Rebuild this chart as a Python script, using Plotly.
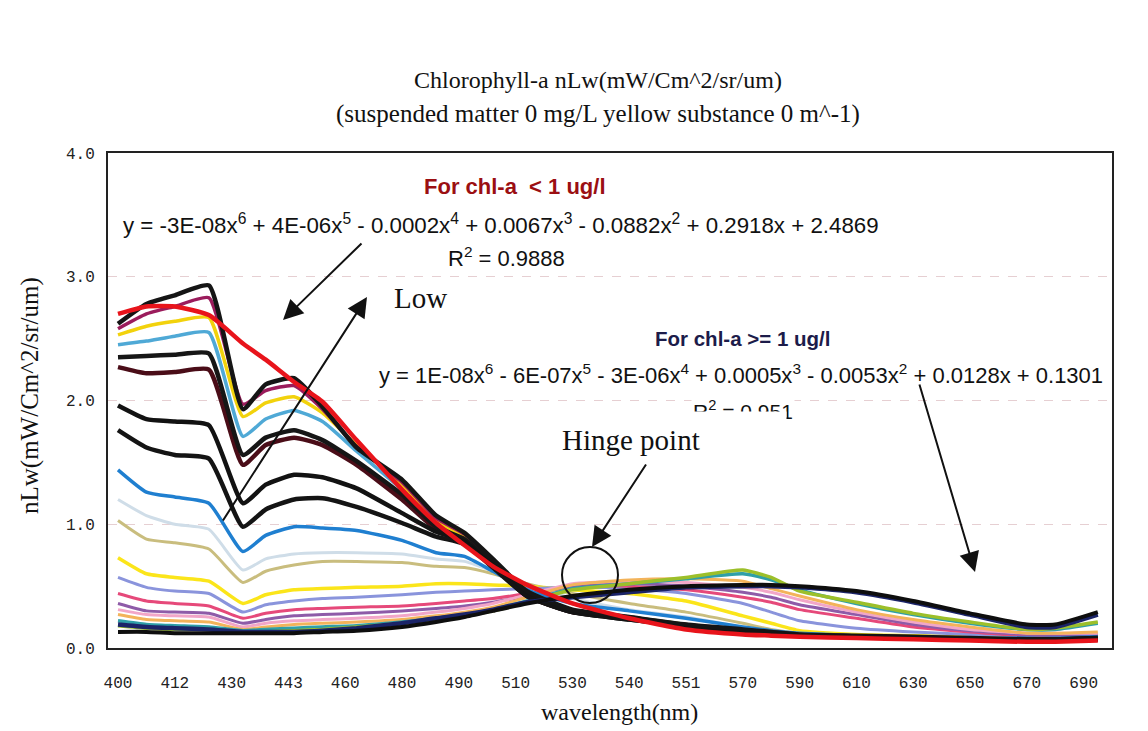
import plotly.graph_objects as go

# ---------------- data ----------------
wl_labels = ["400", "412", "430", "443", "460", "480", "490", "510", "530",
             "540", "551", "570", "590", "610", "630", "650", "670", "690"]
# sample positions along the category axis (in label units)
x_pos = [0, 0.5, 1, 1.6, 2.2, 2.6, 3.1, 3.6, 4.2, 5, 5.6, 6.1, 6.6, 7.2, 8,
         9, 10, 11, 11.5, 12, 13, 14, 15, 16, 16.5, 17.25]

black_a = [2.62, 2.78, 2.85, 2.93, 1.93, 2.13, 2.18, 1.95, 1.62, 1.36, 1.07, 0.93, 0.72,
           0.46, 0.31, 0.25, 0.19, 0.15, 0.13, 0.11, 0.10, 0.09, 0.08, 0.07, 0.07, 0.08]
magenta = [2.58, 2.70, 2.76, 2.83, 1.97, 2.08, 2.12, 1.93, 1.63, 1.34, 1.05, 0.92, 0.71,
           0.45, 0.31, 0.25, 0.19, 0.15, 0.13, 0.11, 0.10, 0.09, 0.08, 0.07, 0.07, 0.08]
yellow_hi = [2.53, 2.60, 2.64, 2.67, 1.87, 1.98, 2.03, 1.90, 1.64, 1.32, 1.03, 0.90, 0.70,
             0.44, 0.30, 0.25, 0.19, 0.14, 0.12, 0.11, 0.10, 0.09, 0.08, 0.07, 0.07, 0.08]
cyan_hi = [2.45, 2.48, 2.52, 2.55, 1.71, 1.85, 1.92, 1.83, 1.59, 1.28, 1.00, 0.88, 0.68,
           0.43, 0.30, 0.25, 0.19, 0.14, 0.12, 0.10, 0.09, 0.08, 0.07, 0.07, 0.07, 0.08]
black_b = [2.35, 2.36, 2.37, 2.38, 1.56, 1.70, 1.76, 1.68, 1.51, 1.24, 0.98, 0.88, 0.68,
           0.43, 0.30, 0.24, 0.18, 0.14, 0.12, 0.10, 0.09, 0.08, 0.07, 0.07, 0.07, 0.08]
brown = [2.27, 2.22, 2.23, 2.25, 1.48, 1.64, 1.70, 1.64, 1.48, 1.20, 0.96, 0.87, 0.67,
         0.42, 0.29, 0.24, 0.18, 0.13, 0.11, 0.10, 0.09, 0.08, 0.07, 0.06, 0.06, 0.07]
black_c = [1.96, 1.85, 1.83, 1.80, 1.17, 1.32, 1.40, 1.38, 1.29, 1.09, 0.94, 0.86, 0.66,
           0.42, 0.29, 0.23, 0.18, 0.13, 0.11, 0.10, 0.09, 0.08, 0.07, 0.06, 0.06, 0.07]
black_d = [1.76, 1.62, 1.56, 1.53, 0.98, 1.12, 1.20, 1.21, 1.14, 1.01, 0.90, 0.84, 0.65,
           0.42, 0.29, 0.23, 0.18, 0.13, 0.11, 0.10, 0.09, 0.08, 0.07, 0.06, 0.06, 0.07]
blue = [1.44, 1.26, 1.22, 1.17, 0.78, 0.91, 0.98, 0.97, 0.95, 0.87, 0.77, 0.74, 0.62,
        0.47, 0.36, 0.30, 0.24, 0.17, 0.14, 0.12, 0.10, 0.09, 0.08, 0.08, 0.08, 0.09]
light_gray = [1.20, 1.07, 1.00, 0.96, 0.63, 0.72, 0.76, 0.77, 0.77, 0.76, 0.72, 0.70, 0.62,
              0.52, 0.40, 0.31, 0.25, 0.17, 0.14, 0.12, 0.10, 0.09, 0.09, 0.08, 0.08, 0.09]
khaki = [1.03, 0.88, 0.85, 0.80, 0.53, 0.62, 0.67, 0.70, 0.70, 0.69, 0.66, 0.65, 0.60,
         0.52, 0.44, 0.36, 0.29, 0.20, 0.15, 0.12, 0.10, 0.09, 0.09, 0.08, 0.08, 0.09]
yellow_lo = [0.73, 0.60, 0.57, 0.54, 0.36, 0.43, 0.47, 0.48, 0.49, 0.50, 0.52, 0.52, 0.51,
             0.50, 0.47, 0.44, 0.38, 0.26, 0.20, 0.14, 0.11, 0.10, 0.09, 0.08, 0.08, 0.09]
periwinkle = [0.57, 0.49, 0.46, 0.44, 0.29, 0.35, 0.38, 0.40, 0.41, 0.43, 0.45, 0.46, 0.47,
              0.48, 0.49, 0.48, 0.44, 0.36, 0.29, 0.22, 0.16, 0.13, 0.11, 0.10, 0.10, 0.10]
crimson = [0.44, 0.38, 0.36, 0.34, 0.24, 0.28, 0.31, 0.32, 0.33, 0.34, 0.36, 0.38, 0.40,
           0.44, 0.50, 0.50, 0.47, 0.41, 0.37, 0.31, 0.24, 0.17, 0.13, 0.10, 0.10, 0.10]
purple = [0.36, 0.30, 0.29, 0.28, 0.20, 0.23, 0.26, 0.27, 0.28, 0.30, 0.32, 0.34, 0.37,
          0.42, 0.50, 0.52, 0.50, 0.45, 0.41, 0.35, 0.27, 0.19, 0.14, 0.11, 0.11, 0.11]
light_pink = [0.31, 0.27, 0.26, 0.25, 0.17, 0.20, 0.22, 0.23, 0.24, 0.26, 0.29, 0.32, 0.36,
              0.43, 0.52, 0.54, 0.53, 0.49, 0.45, 0.39, 0.29, 0.21, 0.15, 0.12, 0.12, 0.12]
orange = [0.27, 0.23, 0.22, 0.21, 0.15, 0.17, 0.19, 0.20, 0.21, 0.23, 0.26, 0.29, 0.33,
          0.41, 0.51, 0.55, 0.56, 0.54, 0.48, 0.42, 0.31, 0.23, 0.17, 0.12, 0.12, 0.13]
teal = [0.22, 0.19, 0.18, 0.17, 0.14, 0.15, 0.16, 0.17, 0.18, 0.21, 0.24, 0.27, 0.31,
        0.38, 0.48, 0.52, 0.56, 0.60, 0.55, 0.47, 0.36, 0.27, 0.20, 0.15, 0.15, 0.20]
green_yellow = [0.18, 0.16, 0.15, 0.15, 0.12, 0.13, 0.14, 0.15, 0.17, 0.20, 0.23, 0.26, 0.30,
                0.37, 0.47, 0.52, 0.57, 0.63, 0.57, 0.46, 0.37, 0.28, 0.21, 0.15, 0.16, 0.21]
navy = [0.19, 0.17, 0.16, 0.15, 0.13, 0.13, 0.13, 0.14, 0.16, 0.20, 0.24, 0.27, 0.31,
        0.37, 0.41, 0.45, 0.49, 0.50, 0.50, 0.49, 0.45, 0.37, 0.27, 0.17, 0.17, 0.27]
black_e = [0.13, 0.13, 0.12, 0.12, 0.12, 0.12, 0.12, 0.13, 0.14, 0.17, 0.21, 0.25, 0.30,
           0.36, 0.42, 0.47, 0.50, 0.51, 0.51, 0.50, 0.46, 0.38, 0.28, 0.19, 0.19, 0.29]
red_fit = [2.70, 2.76, 2.76, 2.69, 2.46, 2.33, 2.15, 1.99, 1.68, 1.28, 1.01, 0.83, 0.66,
           0.51, 0.36, 0.24, 0.15, 0.11, 0.10, 0.09, 0.08, 0.07, 0.06, 0.05, 0.05, 0.06]

series = [
    (light_gray, "#cfdde8", 3.0), (khaki, "#c9bd7e", 3.0), (yellow_lo, "#fbe51a", 3.5),
    (periwinkle, "#8a94dc", 3.0), (crimson, "#e6497a", 3.0), (purple, "#8e5ba8", 3.0),
    (light_pink, "#f2a6c8", 3.0), (orange, "#f3b35a", 3.0), (teal, "#2f9fa8", 3.5),
    (green_yellow, "#9cbf2a", 3.5), (blue, "#1f7fd0", 3.5), (cyan_hi, "#4fa9d6", 3.5),
    (yellow_hi, "#f2d20c", 3.5), (magenta, "#9b1c5c", 3.5), (brown, "#4a0d18", 4.5),
    (black_b, "#161616", 4.5), (black_c, "#121212", 4.5), (black_d, "#141414", 4.5),
    (black_a, "#151515", 4.5), (navy, "#1b2468", 4.5), (black_e, "#0e0e0e", 4.0),
    (red_fit, "#e8141b", 4.5),
]

fig = go.Figure()
for vals, col, w in series:
    fig.add_trace(go.Scatter(x=x_pos, y=vals, mode="lines",
                             line=dict(color=col, width=w, shape="spline", smoothing=0.5),
                             showlegend=False, hoverinfo="skip"))

# page pixel geometry (the page body adds an 8 px offset)
OFF = 8
L, R, T, B = 108, 1112, 153, 648


def PX(px):
    return (px - L) / (R - L)


def PY(py):
    return (B - py) / (B - T)


serif = "Liberation Serif"
sans = "Liberation Sans"
ann = []
# titles
ann.append(dict(x=PX(598), y=PY(80), text="Chlorophyll-a nLw(mW/Cm^2/sr/um)",
                font=dict(family=serif, size=24, color="#111")))
ann.append(dict(x=PX(598), y=PY(114), text="(suspended matter 0 mg/L yellow substance 0 m^-1)",
                font=dict(family=serif, size=25, color="#111")))
ann.append(dict(x=PX(30), y=PY(396), text="nLw(mW/Cm^2/sr/um)", textangle=-90,
                font=dict(family=serif, size=25, color="#111")))
ann.append(dict(x=PX(619), y=PY(712), text="wavelength(nm)",
                font=dict(family=serif, size=24, color="#111")))
# arrows
arrows = [((283, 320), (363, 242)), ((367, 297), (222, 522)),
          ((592, 547), (647, 463)), ((975, 572), (919, 383))]
for (hx, hy), (tx, ty) in arrows:
    ann.append(dict(x=PX(hx), y=PY(hy), ax=tx - hx, ay=ty - hy, text="", showarrow=True,
                    arrowhead=2, arrowsize=2.0, arrowwidth=2, arrowcolor="#111"))
# equation texts
ann.append(dict(x=PX(515), y=PY(186), text="<b>For chl-a  &lt; 1 ug/l</b>",
                font=dict(family=sans, size=22, color="#9b0f12")))
ann.append(dict(x=PX(501), y=PY(224),
                text="y = -3E-08x<sup>6</sup> + 4E-06x<sup>5</sup> - 0.0002x<sup>4</sup> + 0.0067x<sup>3</sup>"
                     " - 0.0882x<sup>2</sup> + 0.2918x + 2.4869",
                font=dict(family=sans, size=22.3, color="#111")))
ann.append(dict(x=PX(506), y=PY(257), text="R<sup>2</sup> = 0.9888",
                font=dict(family=sans, size=22, color="#111")))
ann.append(dict(x=PX(420), y=PY(298), text="Low", font=dict(family=serif, size=29, color="#111")))
ann.append(dict(x=PX(743), y=PY(410), text="R<sup>2</sup> = 0.951", bgcolor="white",
                font=dict(family=sans, size=21, color="#111")))
ann.append(dict(x=PX(735), y=PY(420), text=" ", width=100, height=13, bgcolor="white"))
ann.append(dict(x=PX(742), y=PY(338), text="<b>For chl-a &gt;= 1 ug/l</b>",
                font=dict(family=sans, size=20.5, color="#1c1c4a")))
ann.append(dict(x=PX(741), y=PY(374),
                text="y = 1E-08x<sup>6</sup> - 6E-07x<sup>5</sup> - 3E-06x<sup>4</sup> + 0.0005x<sup>3</sup>"
                     " - 0.0053x<sup>2</sup> + 0.0128x + 0.1301",
                font=dict(family=sans, size=22, color="#111")))
ann.append(dict(x=PX(631), y=PY(440), text="Hinge point",
                font=dict(family=serif, size=29, color="#111")))
for a in ann:
    a.setdefault("xref", "paper")
    a.setdefault("yref", "paper")
    a.setdefault("showarrow", False)
    a.setdefault("xanchor", "center")
    a.setdefault("yanchor", "middle")

fig.update_layout(
    width=1148 - OFF, height=731 - OFF,
    margin=dict(l=L - OFF, r=1148 - R, t=T - OFF, b=731 - B),
    paper_bgcolor="white", plot_bgcolor="white",
    annotations=ann,
    shapes=[dict(type="circle", xref="x", yref="y", xsizemode="pixel", ysizemode="pixel",
                 xanchor=(590 - 118) / 56.8, yanchor=(648 - 575) / 123.75,
                 x0=-28, x1=28, y0=-28, y1=28, line=dict(color="#111", width=2))],
    xaxis=dict(range=[(L - 118) / 56.8, (R - 118) / 56.8], tickmode="array",
               tickvals=list(range(len(wl_labels))), ticktext=wl_labels,
               showgrid=False, zeroline=False, showline=True, mirror=True,
               linecolor="#222", linewidth=2, ticks="", ticklabelstandoff=19,
               tickfont=dict(family="Liberation Mono", size=16, color="#222")),
    yaxis=dict(range=[0, 4], tickvals=[0, 1, 2, 3, 4], tickformat=".1f",
               showgrid=True, gridcolor="#e6cfd2", griddash="dash", gridwidth=1,
               zeroline=False, showline=True, mirror=True, linecolor="#222", linewidth=2,
               ticks="", ticklabelstandoff=8,
               tickfont=dict(family="Liberation Mono", size=16, color="#222")),
)

fig.write_html("out.html")
